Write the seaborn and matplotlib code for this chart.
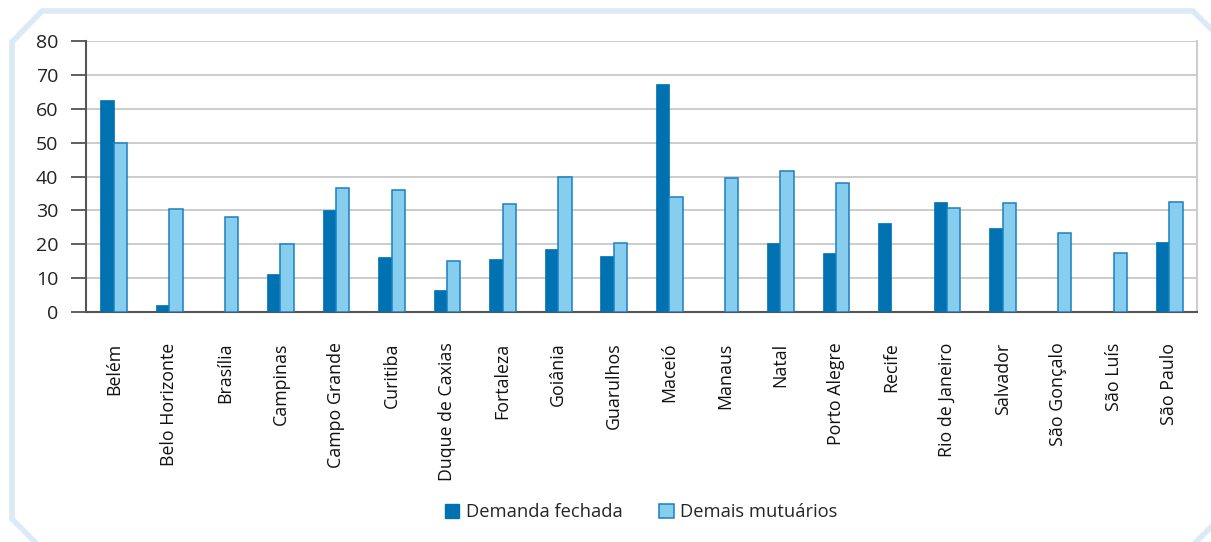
import matplotlib
matplotlib.use("Agg")
import matplotlib.pyplot as plt
import seaborn as sns
import numpy as np
import pandas as pd
from matplotlib.lines import Line2D
from matplotlib.patches import Patch

cities = ["Belém", "Belo Horizonte", "Brasília", "Campinas", "Campo Grande",
          "Curitiba", "Duque de Caxias", "Fortaleza", "Goiânia", "Guarulhos",
          "Maceió", "Manaus", "Natal", "Porto Alegre", "Recife",
          "Rio de Janeiro", "Salvador", "São Gonçalo", "São Luís", "São Paulo"]
demanda_fechada = [62.5, 2.0, np.nan, 11.2, 30.0, 16.2, 6.5, 15.6, 18.6, 16.4,
                   67.4, np.nan, 20.4, 17.3, 26.2, 32.4, 24.9, np.nan, np.nan, 20.8]
demais_mutuarios = [49.9, 30.4, 28.0, 20.0, 36.6, 36.0, 15.0, 31.9, 39.8, 20.5,
                    33.9, 39.5, 41.5, 38.1, np.nan, 30.6, 32.3, 23.4, 17.3, 32.4]
series_names = ["Demanda fechada", "Demais mutuários"]
yticks = [0, 10, 20, 30, 40, 50, 60, 70, 80]

dark = "#0072b1"
light = "#87ceee"
light_edge = "#1b7fc1"

sns.set_theme(style="white")
plt.rcParams['font.family'] = ['Open Sans', 'DejaVu Sans']

df = pd.DataFrame({
    "cidade": cities * 2,
    "valor": demanda_fechada + demais_mutuarios,
    "serie": [series_names[0]] * len(cities) + [series_names[1]] * len(cities),
})

W, H = 1211, 542
fig = plt.figure(figsize=(W / 100, H / 100), dpi=100)
ax = fig.add_axes([86 / W, (H - 312) / H, (1197 - 86) / W, (312 - 41) / H])

sns.barplot(data=df, x="cidade", y="valor", hue="serie", order=cities,
            hue_order=series_names, palette=[dark, light], width=0.48,
            errorbar=None, ax=ax, saturation=1, legend=False)

for cont, name in zip(ax.containers, series_names):
    for p in cont.patches:
        if name == series_names[1]:
            p.set_edgecolor(light_edge)
            p.set_linewidth(1.1)
        else:
            p.set_edgecolor(dark)
            p.set_linewidth(0.5)
        p.set_zorder(3)

ax.set_xlim(-0.5, len(cities) - 0.5)
ax.set_ylim(0, 80)
ax.set_yticks(yticks)
ax.set_yticklabels([str(v) for v in yticks], fontsize=14, color="#222222")
ax.yaxis.grid(True, color="#cccccc", linewidth=1.4, zorder=0)
ax.set_axisbelow(True)

ax.set_xticks(np.arange(len(cities)))
ax.set_xticklabels(cities, rotation=90, fontsize=12.8, color="#111111")
ax.tick_params(axis="x", length=0, pad=22)
ax.set_xticks(np.arange(len(cities) + 1) - 0.5, minor=True)
ax.tick_params(axis="x", which="minor", length=10, width=1.2, color="#444444", direction="out")
ax.tick_params(axis="y", length=11, width=1.2, color="#444444", direction="out", pad=9, left=True)

ax.set_xlabel("")
ax.set_ylabel("")
for s in ["left", "bottom"]:
    ax.spines[s].set_color("#555555")
    ax.spines[s].set_linewidth(1.5)
ax.spines["top"].set_visible(False)
ax.spines["right"].set_color("#cccccc")
ax.spines["right"].set_linewidth(1.4)

handles = [Patch(facecolor=dark, edgecolor=dark), Patch(facecolor=light, edgecolor=light_edge, linewidth=1.1)]
fig.legend(handles, series_names, loc="center", bbox_to_anchor=(641 / W, 1 - 512 / H),
           ncol=2, frameon=False, fontsize=13.2, handlelength=0.8, handleheight=0.8,
           handletextpad=0.35, columnspacing=2.0)

fc = "#dce9f6"
def px(x, y):
    return x / W, 1 - y / H
pts = [(38, 545), (12, 519), (12, 42), (42, 11), (1193, 11), (1215, 33)]
xs, ys = zip(*[px(*p) for p in pts])
fig.add_artist(Line2D(xs, ys, color=fc, linewidth=4, solid_joinstyle="miter"))
pts2 = [(1193, 545), (1215, 523)]
xs, ys = zip(*[px(*p) for p in pts2])
fig.add_artist(Line2D(xs, ys, color=fc, linewidth=4))

fig.savefig("out.png", dpi=100)
